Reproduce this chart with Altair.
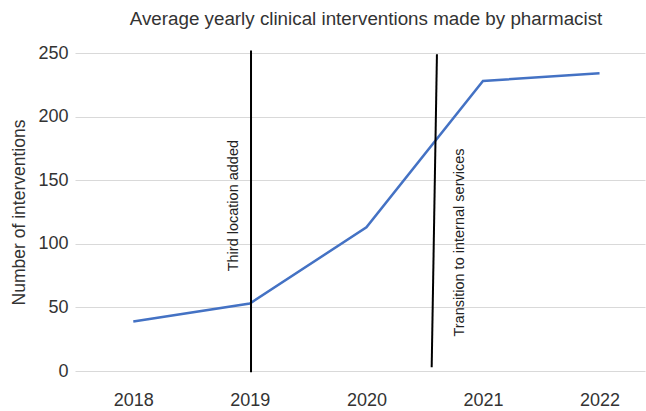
import altair as alt
import pandas as pd

# Yearly averages
years = [2018, 2019, 2020, 2021, 2022]
interventions = [39, 53, 113, 228, 234]

# Event markers: start/end positions (year, value) of each marker line
event_names = ["Third location added", "Transition to internal services"]
event_x_start = [2019.01, 2020.56]
event_x_end = [2019.01, 2020.605]
event_y_start = [-1, 3]
event_y_end = [252, 249]
# Label anchor (year, value) for each event
event_label_x = [2018.865, 2020.80]
event_label_y = [130, 101]

series = pd.DataFrame({"year": years, "value": interventions})
events = pd.DataFrame({
    "name": event_names,
    "x1": event_x_start, "x2": event_x_end,
    "y1": event_y_start, "y2": event_y_end,
    "lx": event_label_x, "ly": event_label_y,
})

x_scale = alt.Scale(domain=[2017.5, 2022.39], nice=False, zero=False)
y_scale = alt.Scale(domain=[0, 250], nice=False)

FONT = "Liberation Sans"
TEXT = "#333333"

line = alt.Chart(series).mark_line(color="#4472C4", strokeWidth=2.5).encode(
    x=alt.X("year:Q", scale=x_scale,
            axis=alt.Axis(values=years, format="d", title=None, grid=False,
                          domain=False, ticks=False, labelFontSize=18,
                          labelColor=TEXT, labelFont=FONT, labelPadding=20)),
    y=alt.Y("value:Q", scale=y_scale,
            axis=alt.Axis(values=[0, 50, 100, 150, 200, 250],
                          title="Number of interventions", titleFontSize=17.5,
                          titleFontWeight="normal", titleColor=TEXT,
                          titleFont=FONT, titlePadding=9,
                          domain=False, ticks=False, labelFontSize=18,
                          labelColor=TEXT, labelFont=FONT, labelPadding=7,
                          gridColor="#d9d9d9", gridWidth=1)),
)

rules = alt.Chart(events).mark_rule(color="black", strokeWidth=2).encode(
    x=alt.X("x1:Q", scale=x_scale),
    x2="x2:Q",
    y=alt.Y("y1:Q", scale=y_scale),
    y2="y2:Q",
)

labels = alt.Chart(events).mark_text(
    angle=270, align="center", baseline="middle", fontSize=14.5,
    font=FONT, color="#222222"
).encode(
    x=alt.X("lx:Q", scale=x_scale),
    y=alt.Y("ly:Q", scale=y_scale),
    text="name:N",
)

chart = alt.layer(line, rules, labels).properties(
    width=570,
    height=318,
    title=alt.TitleParams(
        "Average yearly clinical interventions made by pharmacist",
        fontSize=18.8, fontWeight="normal", font=FONT, color=TEXT,
        anchor="middle", dx=6, offset=15,
    ),
    autosize=alt.AutoSizeParams(type="none"),
    padding={"left": 75, "top": 53, "right": 1, "bottom": 40},
).configure_view(stroke=None)

chart.save("out.html", embed_options={"renderer": "svg", "actions": False})
